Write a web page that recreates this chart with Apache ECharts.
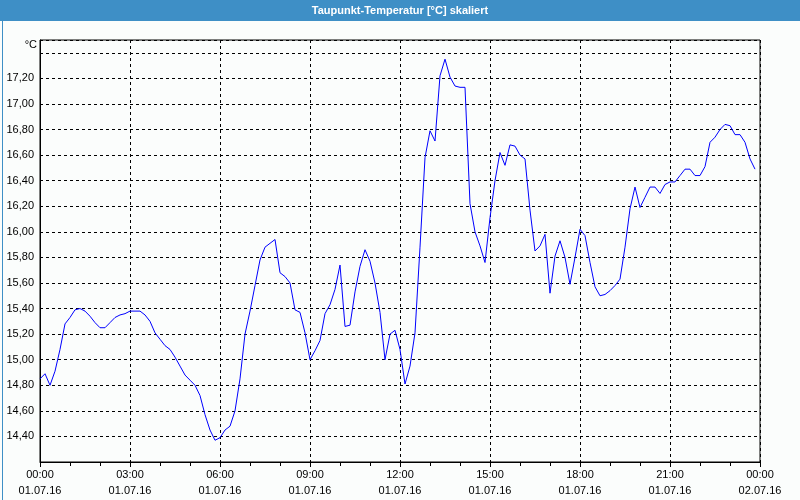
<!DOCTYPE html>
<html>
<head>
<meta charset="utf-8">
<script src="https://cdn.jsdelivr.net/npm/echarts@6/dist/echarts.min.js"></script>
<style>
html,body{margin:0;padding:0;background:#fbfdfc;}
#chart{width:800px;height:500px;}
</style>
</head>
<body>
<div id="chart"></div>
<script>
const titleText = 'Taupunkt-Temperatur [°C] skaliert';
const unitLabel = '°C';
const startMinute = 0;
const sampleStepMinutes = 10;
const tickHours = ['00:00','03:00','06:00','09:00','12:00','15:00','18:00','21:00','00:00'];
const tickDates = ['01.07.16','01.07.16','01.07.16','01.07.16','01.07.16','01.07.16','01.07.16','01.07.16','02.07.16'];
const dewPoint = [
  14.85,14.89,14.80,14.91,15.08,15.28,15.33,15.39,15.40,15.38,
  15.34,15.29,15.25,15.25,15.29,15.33,15.35,15.36,15.38,15.38,
  15.38,15.35,15.30,15.21,15.16,15.11,15.08,15.02,14.95,14.88,
  14.84,14.80,14.72,14.57,14.45,14.37,14.39,14.45,14.48,14.60,
  14.85,15.20,15.38,15.58,15.78,15.88,15.91,15.94,15.68,15.65,
  15.60,15.39,15.37,15.21,15.00,15.07,15.15,15.36,15.43,15.55,
  15.74,15.26,15.27,15.53,15.73,15.86,15.77,15.60,15.37,15.00,
  15.20,15.23,15.08,14.81,14.95,15.21,15.88,16.58,16.79,16.71,
  17.22,17.35,17.21,17.14,17.13,17.13,16.22,16.00,15.89,15.76,
  16.11,16.40,16.62,16.52,16.68,16.67,16.60,16.57,16.17,15.85,
  15.89,15.98,15.52,15.81,15.93,15.80,15.59,15.80,16.02,15.97,
  15.76,15.57,15.50,15.51,15.54,15.58,15.63,15.88,16.18,16.35,
  16.19,16.27,16.35,16.35,16.30,16.37,16.39,16.39,16.44,16.49,
  16.49,16.44,16.44,16.51,16.70,16.74,16.80,16.84,16.83,16.76,
  16.76,16.70,16.57,16.49
];

const seriesData = dewPoint.map((v, i) => [startMinute + i * sampleStepMinutes, v]);

const chart = echarts.init(document.getElementById('chart'), null, {renderer: 'canvas'});
const font = '"Liberation Sans", Arial, sans-serif';
chart.setOption({
  animation: false,
  backgroundColor: '#fbfdfc',
  graphic: [
    {type: 'rect', left: 0, top: 0, shape: {width: 800, height: 21}, style: {fill: '#3e8fc6'}, z: -1},
    {type: 'rect', left: 0, top: 0, shape: {x: 0.5, y: 0.5, width: 799, height: 499}, style: {fill: null, stroke: '#3e8fc6', lineWidth: 1}, z: -1},
    {type: 'text', x: 400, y: 11, style: {text: titleText, fill: '#ffffff', font: 'bold 11px ' + font, textAlign: 'center', textVerticalAlign: 'middle'}},
    {type: 'text', x: 37, y: 45, style: {text: unitLabel, fill: '#000', font: '11px ' + font, textAlign: 'right', textVerticalAlign: 'middle'}}
  ],
  grid: {left: 40, right: 40, top: 40, bottom: 38, show: true, borderColor: '#000', borderWidth: 1, backgroundColor: 'transparent'},
  xAxis: {
    type: 'value', min: 0, max: 1440, interval: 180,
    axisLine: {show: true, lineStyle: {color: '#000', width: 1}},
    axisTick: {show: true, length: 5, lineStyle: {color: '#000'}},
    minorTick: {show: true, splitNumber: 3, length: 4, lineStyle: {color: '#000'}},
    splitLine: {show: true, lineStyle: {color: '#000', type: [3, 3], width: 1}},
    axisLabel: {
      margin: 5, color: '#000', fontSize: 11, fontFamily: font, lineHeight: 16,
      formatter: function (v) { const i = Math.round(v / 180); return tickHours[i] + '\n' + tickDates[i]; }
    }
  },
  yAxis: {
    type: 'value', min: 14.2, max: 17.5, interval: 0.2,
    axisLine: {show: true, lineStyle: {color: '#000', width: 1}},
    axisTick: {show: false},
    splitLine: {show: true, lineStyle: {color: '#000', type: [3, 3], width: 1}},
    axisLabel: {
      margin: 6, color: '#000', fontSize: 11, fontFamily: font,
      formatter: function (v) { if (v < 14.3 || v > 17.3) return ''; return v.toFixed(2).replace('.', ','); }
    }
  },
  series: [{
    type: 'line', data: seriesData, showSymbol: false, symbol: 'none',
    lineStyle: {color: '#0000ff', width: 1}, itemStyle: {color: '#0000ff'}
  }]
});
</script>
</body>
</html>
